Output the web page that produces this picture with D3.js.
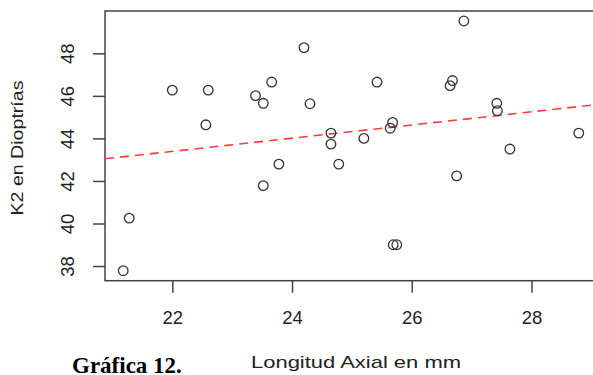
<!DOCTYPE html>
<html>
<head>
<meta charset="utf-8">
<script src="https://cdn.jsdelivr.net/npm/d3@7"></script>
<style>
  body { margin: 0; background: #fff; }
  svg { display: block; font-family: 'Liberation Sans', Arial, sans-serif; }
</style>
</head>
<body>
<svg width="593" height="375"></svg>
<script>
// Data
let axialLength = [21.18, 21.28, 22.00, 22.60, 22.56, 23.39, 23.52, 23.66, 23.78, 23.52,
  24.20, 24.30, 25.42, 26.87, 26.68, 26.64, 27.42, 27.43, 25.68, 25.64,
  24.65, 24.65, 25.20, 24.78, 28.79, 27.64, 26.75, 25.69, 25.75];
let k2 = [37.78, 40.25, 46.27, 46.27, 44.64, 46.01, 45.65, 46.65, 42.79, 41.78,
  48.27, 45.63, 46.65, 49.52, 46.72, 46.48, 45.65, 45.30, 44.75, 44.48,
  44.25, 43.73, 44.00, 42.79, 44.25, 43.50, 42.24, 39.00, 39.00];
let xTicks = [22, 24, 26, 28];
let yTicks = [38, 40, 42, 44, 46, 48];
// Fitted line (intercept, slope)
let fitIntercept = 36.57;
let fitSlope = 0.31;

let points = axialLength.map((x, i) => ({ x: x, y: k2[i] }));

// Select svg element
let svg = d3.select('svg');

// Plot region (right edge runs just past the image)
let plotLeft = 105, plotRight = 597, plotTop = 11, plotBottom = 280.7;

// R style extents: data range padded by 4%
function padded(values) {
  let [lo, hi] = d3.extent(values);
  let pad = (hi - lo) * 0.04;
  return [lo - pad, hi + pad];
}

let x = d3.scaleLinear().domain(padded(axialLength)).range([plotLeft, plotRight]);
let y = d3.scaleLinear().domain(padded(k2)).range([plotBottom, plotTop]);

// Clip for the fitted line
svg.append('clipPath')
    .attr('id', 'plot-clip')
  .append('rect')
    .attr('x', plotLeft)
    .attr('y', plotTop)
    .attr('width', plotRight - plotLeft)
    .attr('height', plotBottom - plotTop);

// Box around plot
svg.append('rect')
    .attr('x', plotLeft)
    .attr('y', plotTop)
    .attr('width', plotRight - plotLeft)
    .attr('height', plotBottom - plotTop)
    .attr('fill', 'none')
    .attr('stroke', '#444')
    .attr('stroke-width', 1.5);

// Bottom axis
let xAxis = svg.append('g')
    .attr('transform', 'translate(0,' + plotBottom + ')')
    .call(d3.axisBottom(x).tickValues(xTicks).tickSize(12).tickSizeOuter(0).tickPadding(5));
xAxis.select('.domain').remove();
xAxis.selectAll('line').attr('stroke', '#444').attr('stroke-width', 1.5);
xAxis.selectAll('text')
    .attr('fill', '#222')
    .attr('font-size', 18.5)
    .attr('font-family', "'Liberation Sans', Arial, sans-serif")
    .attr('dy', null)
    .attr('y', 43);

// Left axis, labels turned like R's default
let yAxis = svg.append('g')
    .attr('transform', 'translate(' + plotLeft + ',0)')
    .call(d3.axisLeft(y).tickValues(yTicks).tickSize(12).tickSizeOuter(0));
yAxis.select('.domain').remove();
yAxis.selectAll('line').attr('stroke', '#444').attr('stroke-width', 1.5);
yAxis.selectAll('text')
    .attr('fill', '#222')
    .attr('font-size', 18.5)
    .attr('font-family', "'Liberation Sans', Arial, sans-serif")
    .attr('x', null)
    .attr('dy', null)
    .attr('text-anchor', 'middle')
    .attr('transform', 'translate(-31,0) rotate(-90)');

// Fitted dashed line
let xd = x.domain();
svg.append('line')
    .attr('clip-path', 'url(#plot-clip)')
    .attr('x1', x(xd[0]))
    .attr('y1', y(fitIntercept + fitSlope * xd[0]))
    .attr('x2', x(xd[1]))
    .attr('y2', y(fitIntercept + fitSlope * xd[1]))
    .attr('stroke', '#ff3b3b')
    .attr('stroke-width', 1.6)
    .attr('stroke-dasharray', '9,6');

// Points, open circles
svg.append('g')
  .selectAll('circle')
  .data(points)
  .enter().append('circle')
    .attr('cx', d => x(d.x))
    .attr('cy', d => y(d.y))
    .attr('r', 4.8)
    .attr('fill', 'none')
    .attr('stroke', '#333')
    .attr('stroke-width', 1.3);

// Axis titles
svg.append('text')
    .attr('x', 356)
    .attr('y', 367.5)
    .attr('text-anchor', 'middle')
    .attr('font-size', 17)
    .attr('fill', '#222')
    .attr('textLength', 210)
    .attr('lengthAdjust', 'spacingAndGlyphs')
    .text('Longitud Axial en mm');

svg.append('text')
    .attr('transform', 'translate(23,148) rotate(-90)')
    .attr('text-anchor', 'middle')
    .attr('font-size', 17)
    .attr('fill', '#222')
    .attr('textLength', 135)
    .attr('lengthAdjust', 'spacingAndGlyphs')
    .text('K2 en Dioptrías');

// Caption below the chart
svg.append('text')
    .attr('x', 72)
    .attr('y', 373)
    .attr('font-family', "'Liberation Serif', 'Times New Roman', serif")
    .attr('font-weight', 'bold')
    .attr('font-size', 23)
    .attr('fill', '#000')
    .text('Gráfica 12.');
</script>
</body>
</html>
